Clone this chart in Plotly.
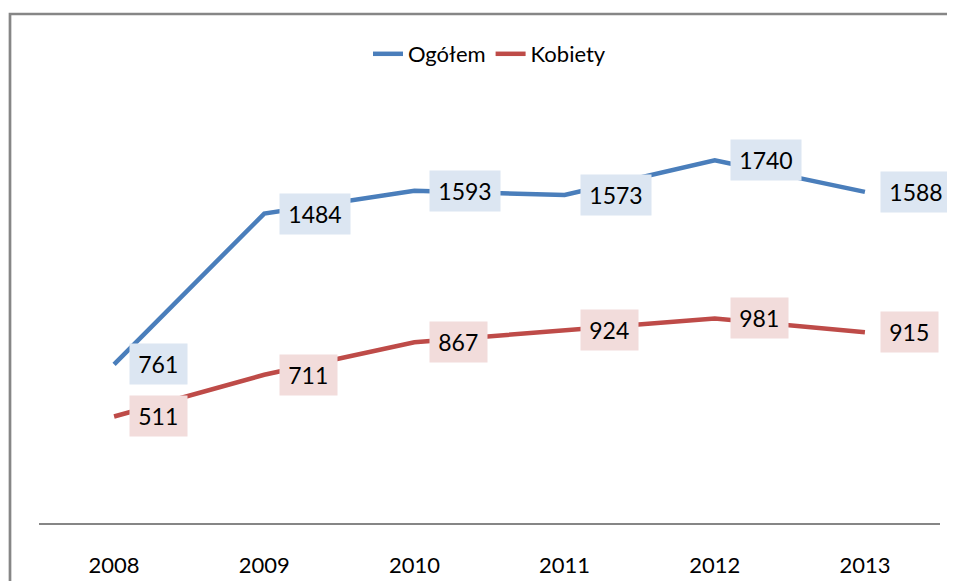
import plotly.graph_objects as go

years = ["2008", "2009", "2010", "2011", "2012", "2013"]
ogolem = [761, 1484, 1593, 1573, 1740, 1588]
kobiety = [511, 711, 867, 924, 981, 915]

BLUE = "#4a7ebb"
RED = "#be4b48"
BLUE_BG = "#dce6f2"
RED_BG = "#f2dcdb"
FONT = "Lato"

xpos = list(range(len(years)))

fig = go.Figure()
fig.add_trace(go.Scatter(x=xpos, y=ogolem, mode="lines", name="Ogółem",
                         line=dict(color=BLUE, width=4.5)))
fig.add_trace(go.Scatter(x=xpos, y=kobiety, mode="lines", name="Kobiety",
                         line=dict(color=RED, width=4.5)))

# etykiety danych w prostokątach, na prawo od punktu
for vals, bg in [(ogolem, BLUE_BG), (kobiety, RED_BG)]:
    for i, v in zip(xpos, vals):
        txt = str(v)
        fig.add_annotation(x=i, y=v, xref="x", yref="y", text=txt, showarrow=False,
                           xanchor="left", yanchor="middle", xshift=15,
                           bgcolor=bg, borderpad=6, width=13.5 * len(txt) + 4, height=28,
                           font=dict(family=FONT, size=23, color="#000000"))

# ramka wykresu (strona ma 8 px marginesu) - prawa i dolna krawędź poza kadrem
fig.add_shape(type="rect", xref="paper", yref="paper",
              x0=-29 / 901, x1=960 / 901, y0=(515 - 620) / 417, y1=(515 - 6) / 417,
              line=dict(color="#868686", width=2.7), fillcolor="rgba(0,0,0,0)", layer="below")

fig.update_layout(
    width=947, height=573,
    margin=dict(l=31, r=15, t=98, b=58, autoexpand=False),
    paper_bgcolor="white", plot_bgcolor="white",
    font=dict(family=FONT, size=22, color="#000000"),
    showlegend=True,
    legend=dict(orientation="h", x=0.5, xanchor="center", y=(515 - 46) / 417, yanchor="middle",
                font=dict(family=FONT, size=22), bgcolor="rgba(0,0,0,0)"),
    xaxis=dict(range=[-0.5, len(years) - 0.5], tickvals=xpos, ticktext=years,
               showline=True, linecolor="#868686", linewidth=1.5, automargin=False,
               showgrid=False, zeroline=False, ticks="", ticklabelstandoff=22,
               tickfont=dict(family=FONT, size=22, color="#000000")),
    yaxis=dict(range=[0, 2000], visible=False, showgrid=False, zeroline=False),
)

fig.write_html("out.html")
